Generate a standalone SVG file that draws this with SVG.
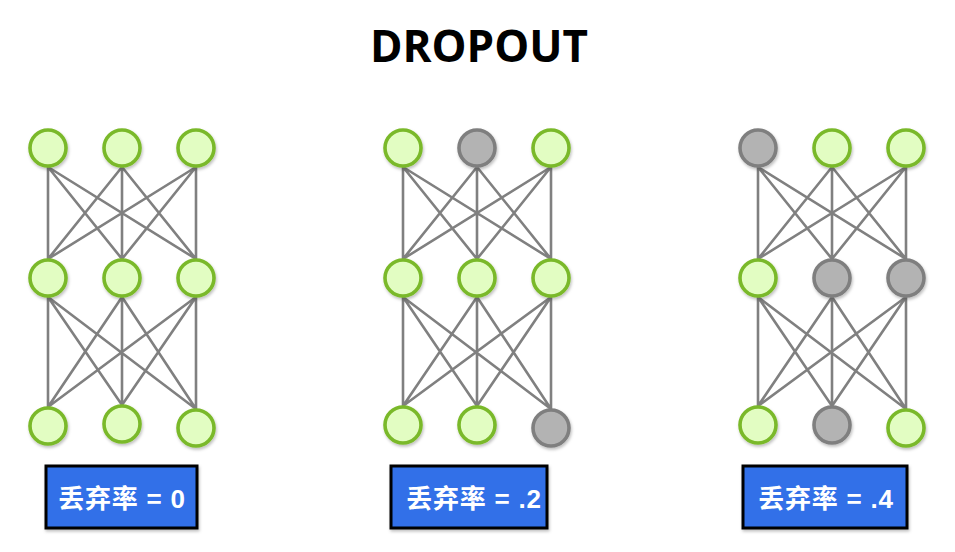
<svg xmlns="http://www.w3.org/2000/svg" width="955" height="552" viewBox="0 0 955 552">
<defs>
<filter id="sh" x="-30%" y="-30%" width="160%" height="160%">
<feDropShadow dx="1" dy="2" stdDeviation="1.5" flood-color="#000" flood-opacity="0.25"/>
</filter>
</defs>
<style>
.ln{stroke:#808080;stroke-width:2.6;fill:none;stroke-linecap:round}
.on{fill:#e2fdc2;stroke:#7ab929;stroke-width:3.6;filter:url(#sh)}
.off{fill:#b3b3b3;stroke:#7f7f7f;stroke-width:3.6;filter:url(#sh)}
.box{fill:#3370e8;stroke:#000;stroke-width:3;filter:url(#sh)}
.lbl{font-family:"Liberation Sans","Noto Sans CJK SC",sans-serif;font-weight:bold;font-size:26px;fill:#fff;text-anchor:middle;letter-spacing:0.8px}
.title{font-family:"Open Sans",sans-serif;font-weight:bold;font-size:44px;fill:#000;text-anchor:middle}
</style>
<rect width="955" height="552" fill="#fff"/>
<text class="title" x="479" y="62">DROPOUT</text>
<g id="connectors">
<path class="ln" d="M48 167L48 259M48 167L122 259M48 167L196 259M122 167L48 259M122 167L122 259M122 167L196 259M196 167L48 259M196 167L122 259M196 167L196 259"/>
<path class="ln" d="M48 297L48 407M48 297L122 405M48 297L196 409M122 297L48 407M122 297L122 405M122 297L196 409M196 297L48 407M196 297L122 405M196 297L196 409"/>
<path class="ln" d="M403 167L403 259M403 167L477 259M403 167L551 259M477 167L403 259M477 167L477 259M477 167L551 259M551 167L403 259M551 167L477 259M551 167L551 259"/>
<path class="ln" d="M403 297L403 406M403 297L477 406M403 297L551 409M477 297L403 406M477 297L477 406M477 297L551 409M551 297L403 406M551 297L477 406M551 297L551 409"/>
<path class="ln" d="M758 167L758 259M758 167L832 259M758 167L906 259M832 167L758 259M832 167L832 259M832 167L906 259M906 167L758 259M906 167L832 259M906 167L906 259"/>
<path class="ln" d="M758 297L758 406M758 297L832 406M758 297L906 409M832 297L758 406M832 297L832 406M832 297L906 409M906 297L758 406M906 297L832 406M906 297L906 409"/>
</g>
<g id="net1">
<circle id="n1a" class="on" cx="48" cy="148" r="18"/>
<circle id="n1b" class="on" cx="122" cy="148" r="18"/>
<circle id="n1c" class="on" cx="196" cy="148" r="18"/>
<circle id="n1d" class="on" cx="48" cy="278" r="18"/>
<circle id="n1e" class="on" cx="122" cy="278" r="18"/>
<circle id="n1f" class="on" cx="196" cy="278" r="18"/>
<circle id="n1g" class="on" cx="48" cy="426" r="18"/>
<circle id="n1h" class="on" cx="122" cy="424" r="18"/>
<circle id="n1i" class="on" cx="196" cy="428" r="18"/>
</g>
<g id="net2">
<circle id="n2a" class="on" cx="403" cy="148" r="18"/>
<circle id="n2b" class="off" cx="477" cy="148" r="18"/>
<circle id="n2c" class="on" cx="551" cy="148" r="18"/>
<circle id="n2d" class="on" cx="403" cy="278" r="18"/>
<circle id="n2e" class="on" cx="477" cy="278" r="18"/>
<circle id="n2f" class="on" cx="551" cy="278" r="18"/>
<circle id="n2g" class="on" cx="403" cy="425" r="18"/>
<circle id="n2h" class="on" cx="477" cy="425" r="18"/>
<circle id="n2i" class="off" cx="551" cy="428" r="18"/>
</g>
<g id="net3">
<circle id="n3a" class="off" cx="758" cy="148" r="18"/>
<circle id="n3b" class="on" cx="832" cy="148" r="18"/>
<circle id="n3c" class="on" cx="906" cy="148" r="18"/>
<circle id="n3d" class="on" cx="758" cy="278" r="18"/>
<circle id="n3e" class="off" cx="832" cy="278" r="18"/>
<circle id="n3f" class="off" cx="906" cy="278" r="18"/>
<circle id="n3g" class="on" cx="758" cy="425" r="18"/>
<circle id="n3h" class="off" cx="832" cy="425" r="18"/>
<circle id="n3i" class="on" cx="906" cy="428" r="18"/>
</g>
<g id="label1">
<rect class="box" x="46" y="466" width="151" height="62"/>
<text class="lbl" x="122" y="508">丢弃率 = 0</text>
</g>
<g id="label2">
<rect class="box" x="391" y="466" width="156" height="62"/>
<text class="lbl" x="474" y="508">丢弃率 = .2</text>
</g>
<g id="label3">
<rect class="box" x="743" y="466" width="164" height="62"/>
<text class="lbl" x="826" y="508">丢弃率 = .4</text>
</g>
</svg>
